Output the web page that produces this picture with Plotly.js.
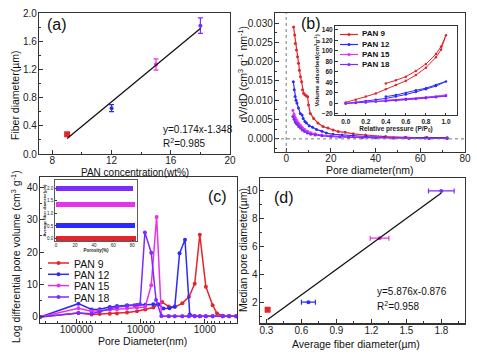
<!DOCTYPE html>
<html><head><meta charset="utf-8">
<script src="https://cdn.plot.ly/plotly-3.0.1.min.js"></script>
<style>html,body{margin:0;padding:0;background:#fff}#chart{width:477px;height:358px}</style>
</head><body><div id="chart"></div>
<script>
// ---------- data ----------
const seriesNames = ['PAN 9','PAN 12','PAN 15','PAN 18'];
const seriesColors = ['#e3262b','#2b2bff','#e832e8','#7a2cff'];

// (a) fiber diameter vs PAN concentration
const concA = [9, 12, 15, 18];
const fiberA = [0.28, 0.65, 1.27, 1.82];
const fiberErrA = [0, 0.05, 0.08, 0.11];
const fitAx = [9, 18];
const fitAy = [0.22, 1.78];

// (b) BJH pore size distribution
const b9x = [3.3,3.8,4.1,4.6,5.1,5.5,5.9,6.4,6.9,7.3,7.8,8.4,9.0,9.6,10.0,10.8,12.3,14.2,16.5,18.7,21,23.3,26.4,30,35.5,44.6,53.7,62.9,72];
const b9y = [0.0290,0.0269,0.0247,0.0230,0.0213,0.0196,0.0178,0.0161,0.0148,0.0127,0.0118,0.0114,0.0112,0.0109,0.0088,0.0066,0.0053,0.0041,0.0032,0.0028,0.0023,0.0019,0.0017,0.0013,0.0010,0.0006,0.0004,0.0004,0.0003];
const b12x = [3.2,3.6,4.0,4.4,4.8,5.5,6.3,7.1,7.6,8.4,9.1,10.3,11.8,13.6,16,18,21,25,30,36,44,53,62,72];
const b12y = [0.0148,0.0127,0.0110,0.0100,0.0093,0.0080,0.0066,0.0062,0.0053,0.0045,0.0041,0.0034,0.0030,0.0024,0.0020,0.0015,0.0012,0.0010,0.0008,0.0006,0.0004,0.0003,0.0002,0.0002];
const b15x = [3.0,3.5,4.0,4.5,5.0,5.6,6.4,7.2,8.2,9.5,11,13,16,20,24,28,34,40,48,55,64,72];
const b15y = [0.0074,0.0064,0.0056,0.0050,0.0045,0.0040,0.0035,0.0030,0.0025,0.0020,0.0016,0.0013,0.0010,0.0008,0.0006,0.0005,0.0004,0.0003,0.0002,0.0002,0.0001,0.0001];
const b18x = [3.0,3.5,4.0,4.5,5.0,5.6,6.4,7.2,8.2,9.5,11,13,16,20,24,28,34,40,48,55,64,72];
const b18y = [0.0058,0.0051,0.0044,0.0040,0.0037,0.0032,0.0028,0.0023,0.0019,0.0015,0.0012,0.0010,0.0008,0.0006,0.0005,0.0004,0.0003,0.0003,0.0002,0.0001,0.0001,0.0001];

// (b) inset: N2 isotherms (adsorption then desorption)
const iso9x = [0.0,0.1,0.2,0.3,0.4,0.5,0.6,0.7,0.8,0.9,0.95,1.0,0.95,0.9,0.8,0.7,0.6,0.5,0.4];
const iso9y = [2,7,13,19,27,35,43,54,68,88,102,130,108,94,75,62,51,44,38];
const iso12x = [0.0,0.1,0.2,0.3,0.4,0.5,0.6,0.7,0.8,0.9,1.0,0.9,0.8,0.7,0.6,0.5,0.4];
const iso12y = [0,2,4.5,7,9.5,13,17,22,27,33,42,35,29,25,20,16,13];
const iso15x = [0.0,0.1,0.2,0.3,0.4,0.5,0.6,0.7,0.8,0.9,1.0,0.8,0.6,0.4];
const iso15y = [0,1.2,2.5,3.8,5,6.5,8,9.5,11,13,16,12,9,6];
const iso18x = [0.0,0.1,0.2,0.3,0.4,0.5,0.6,0.7,0.8,0.9,1.0,0.8,0.6,0.4];
const iso18y = [0,1,2,3,4,5.5,7,8.5,10,12,14,11,8,5];

// (c) mercury intrusion: log differential pore volume
const c9x = [369000,93100,58000,43500,30200,23400,16300,11400,8490,6350,4630,3650,2940,2245,1770,1440,1200,965,757,647,526,419,325];
const c9y = [0,1.2,0.8,0.9,1.0,1.1,1.4,1.8,2.3,2.9,4.6,3.2,3.1,4.2,6.2,10.2,25.3,9.3,3.6,1.1,0.4,0.3,0.2];
const c12x = [369000,93100,58000,43500,30200,23400,16300,11400,8490,6350,5300,4400,3560,2940,2480,2040,1720,1440,1200,965,757,526,419,325];
const c12y = [0,4.1,2.3,2.4,3.1,3.4,3.6,3.7,3.8,3.9,3.9,2.6,2.7,3.2,19.6,23.8,0.8,0.3,0.2,0.2,0.2,0.2,0.2,0.2];
const c15x = [369000,93100,58000,43500,30200,23400,16300,11400,8490,6840,5640,4750,3650,2940,2245,1770,1440,1200,965,757,526,419,325];
const c15y = [0,2.7,1.8,1.9,2.2,2.4,2.6,2.9,3.1,9.8,30.8,0.3,0.2,0.2,0.2,0.2,0.2,0.2,0.2,0.2,0.2,0.2,0.2];
const c18x = [369000,93100,58000,43500,30200,23400,16300,12500,10200,8590,6840,5760,4750,3650,2940,2245,1770,1440,1200,965,757,526,419,325];
const c18y = [0,1.2,1.0,1.6,2.6,3.1,3.4,3.6,3.9,26.0,19.8,5.2,0.3,0.2,0.2,0.2,0.2,0.2,0.2,0.2,0.2,0.2,0.2,0.2];
const cTicks = [100000, 10000, 1000];
const cTickText = ['100000','10000','1000'];

// (c) inset: porosity bars
const porosity = [84, 83.4, 82.4, 80.7];
const barPos = [0.0, 0.5, 1.35, 2.0];

// (d) median pore diameter vs average fiber diameter
const fiberD = [0.31, 0.66, 1.27, 1.80];
const fiberErrD = [0, 0.06, 0.08, 0.11];
const medPoreD = [1.45, 2.0, 6.6, 10.0];
const fitDx = [0.31, 1.80];
const fitDy = [0.75, 9.85];

// ---------- layout helpers ----------
const W = 477, H = 358;
const F = 'Liberation Sans, Arial, sans-serif';
const INK = '#222';
const dx = (a,b) => [a/W, b/W];
const dy = (top,bot) => [1-bot/H, 1-top/H];

function ax(extra){
  return Object.assign({
    showline:true, linecolor:'#333', linewidth:1.2, mirror:true,
    ticks:'inside', ticklen:4, tickwidth:1, tickcolor:'#333',
    showgrid:false, zeroline:false, automargin:false,
    tickfont:{family:F,size:10,color:INK},
  }, extra);
}
function ttl(text, size, standoff, bold){
  return {text:text, standoff:standoff, font:{family:F,size:size,color:INK,weight:bold?'bold':'normal'}};
}
const minorT = (d)=>({ticks:'inside', ticklen:2, tickcolor:'#333', dtick:d, showgrid:false});

const traces = [];
// (a)
for(let i=0;i<4;i++){
  traces.push({type:'scatter', mode:'markers', x:[concA[i]], y:[fiberA[i]], xaxis:'x', yaxis:'y', name:seriesNames[i],
    marker:{color:seriesColors[i], size:i===0?6:4, symbol:i===0?'square':'circle'},
    error_y:{type:'data', array:[fiberErrA[i]], visible:fiberErrA[i]>0, color:seriesColors[i], thickness:1.2, width:2.5},
    showlegend:false});
}
traces.push({type:'scatter', mode:'lines', x:fitAx, y:fitAy, xaxis:'x', yaxis:'y', line:{color:'#111', width:1.3}, showlegend:false});

// (b)
const bX=[b9x,b12x,b15x,b18x], bY=[b9y,b12y,b15y,b18y];
for(let i=0;i<4;i++){
  traces.push({type:'scatter', mode:'lines+markers', x:bX[i], y:bY[i], xaxis:'x2', yaxis:'y2', name:seriesNames[i],
    line:{color:seriesColors[i], width:1.2}, marker:{color:seriesColors[i], size:3}, showlegend:false});
}
// (b) inset
const isoX=[iso9x,iso12x,iso15x,iso18x], isoY=[iso9y,iso12y,iso15y,iso18y];
for(let i=0;i<4;i++){
  traces.push({type:'scatter', mode:'lines+markers', x:isoX[i], y:isoY[i], xaxis:'x3', yaxis:'y3', name:seriesNames[i],
    line:{color:seriesColors[i], width:1}, marker:{color:seriesColors[i], size:2.5}, showlegend:false});
}
// (c)
const cX=[c9x,c12x,c15x,c18x], cY=[c9y,c12y,c15y,c18y];
for(let i=0;i<4;i++){
  traces.push({type:'scatter', mode:'lines+markers', x:cX[i], y:cY[i], xaxis:'x4', yaxis:'y4', name:seriesNames[i],
    line:{color:seriesColors[i], width:1.5}, marker:{color:seriesColors[i], size:4}, showlegend:false});
}
// (c) inset bars
traces.push({type:'bar', orientation:'h', x:porosity, y:barPos, xaxis:'x5', yaxis:'y5', width:0.2,
  marker:{color:seriesColors}, showlegend:false});
// (d)
for(let i=0;i<4;i++){
  traces.push({type:'scatter', mode:'markers', x:[fiberD[i]], y:[medPoreD[i]], xaxis:'x6', yaxis:'y6', name:seriesNames[i],
    marker:{color:seriesColors[i], size:i===0?6:4, symbol:i===0?'square':'circle'},
    error_x:{type:'data', array:[fiberErrD[i]], visible:fiberErrD[i]>0, color:seriesColors[i], thickness:1.2, width:2.5},
    showlegend:false});
}
traces.push({type:'scatter', mode:'lines', x:fitDx, y:fitDy, xaxis:'x6', yaxis:'y6', line:{color:'#111', width:1.3}, showlegend:false});

// ---------- custom legends (key only) ----------
const shapes = [], annotations = [];
function legend(x0, x1, xt, rows, fsize, bold, msize, lw, boxH){
  for(let i=0;i<4;i++){
    const yy = 1 - rows[i]/H;
    shapes.push({type:'line', xref:'paper', yref:'paper', x0:x0/W, x1:x1/W, y0:yy, y1:yy, line:{color:seriesColors[i], width:lw}});
    const cx=(x0+x1)/2, r=msize/2;
    shapes.push({type:'circle', xref:'paper', yref:'paper', x0:(cx-r)/W, x1:(cx+r)/W, y0:yy-r/H, y1:yy+r/H, fillcolor:seriesColors[i], line:{width:0}});
    annotations.push({xref:'paper', yref:'paper', x:xt/W, y:yy, xanchor:'left', yanchor:'middle', showarrow:false,
      height:boxH, valign:'middle',
      text:seriesNames[i], font:{family:F, size:fsize, color:'#111', weight:bold?'bold':'normal'}});
  }
}
legend(340, 358, 360, [34.5, 44.5, 54.5, 64.5], 8, true, 3, 1.2, 9.5);
legend(48, 69, 72, [263, 274.3, 285.6, 297], 10.5, false, 4, 1.5, 11);

function txt(x, y, text, size){
  annotations.push({xref:'paper', yref:'paper', x:x/W, y:1-y/H, xanchor:'left', yanchor:'middle', showarrow:false,
    text:text, font:{family:F, size:size, color:'#111'}});
}
function ctxt(x, y, text, size, angle){
  annotations.push({xref:'paper', yref:'paper', x:x/W, y:1-y/H, xanchor:'center', yanchor:'middle', showarrow:false,
    textangle:angle||0, text:text, font:{family:F, size:size, color:'#111'}});
}
txt(45, 25, '(a)', 16); txt(299, 23, '(b)', 16); txt(206, 196, '(c)', 16); txt(272, 197, '(d)', 16);
txt(161, 129, 'y=0.174x-1.348', 10); txt(161, 143, 'R<sup>2</sup>=0.985', 10);
txt(375, 291, 'y=5.876x-0.876', 10); txt(375, 306, 'R<sup>2</sup>=0.958', 10);

// axis titles
ctxt(135, 172.5, 'PAN concentration(wt%)', 10);
ctxt(15, 96, 'Fiber diameter(µm)', 10.5, -90);
ctxt(370, 170, 'Pore diameter(nm)', 10.5);
ctxt(241.5, 74, 'dV/dD (cm<sup>3</sup> g<sup>-1</sup> nm<sup>-1</sup>)', 10.5, -90);
ctxt(142, 341, 'Pore Diameter(nm)', 10.5);
ctxt(15, 257, 'Log differential pore volume (cm<sup>3</sup> g<sup>-1</sup>)', 10.5, -90);
ctxt(356, 344, 'Average fiber diameter(µm)', 10.5);
ctxt(243, 250, 'Median pore diameter(µm)', 10.5, -90);

// dotted reference lines in (b)
shapes.push({type:'line', xref:'x2', yref:'y2 domain', x0:0, x1:0, y0:0, y1:1, line:{color:'#777', width:1, dash:'dot'}});
shapes.push({type:'line', xref:'x2 domain', yref:'y2', x0:0, x1:1, y0:0, y1:0, line:{color:'#777', width:1, dash:'dot'}});

const XS = -3, YS = -1;
const layout = {
  width:W, height:H, margin:{l:0,r:0,t:0,b:0}, paper_bgcolor:'#fff', plot_bgcolor:'rgba(0,0,0,0)',
  font:{family:F, color:INK}, showlegend:false,
  // (a)
  xaxis: ax({domain:dx(39,230), anchor:'y', range:[7.1,20], tickvals:[8,12,16,20], minor:minorT(2), ticklabelstandoff:XS}),
  yaxis: ax({domain:dy(13,154), anchor:'x', range:[0,2.0], dtick:0.4, tickformat:'.1f', minor:minorT(0.2), ticklabelstandoff:YS}),
  // (b)
  xaxis2: ax({domain:dx(275,465), anchor:'y2', range:[-5,80], dtick:20, minor:minorT(10), ticklabelstandoff:XS}),
  yaxis2: ax({domain:dy(13,152), anchor:'x2', range:[-0.0034,0.0326], dtick:0.005, tickformat:'.3f', minor:minorT(0.0025), ticklabelstandoff:YS}),
  // (b) inset
  xaxis3: ax({domain:dx(335,457), anchor:'y3', range:[-0.107,1.11], dtick:0.2, tickformat:'.1f', ticklen:2.5, linewidth:1,
    tickfont:{family:F,size:6.5,color:INK,weight:'bold'}, title:ttl('Relative pressure (P/P<sub>0</sub>)',6.5,0,true)}),
  yaxis3: ax({domain:dy(25.7,115), anchor:'x3', range:[-22,148], dtick:20, ticklen:2.5, linewidth:1,
    tickfont:{family:F,size:6.5,color:INK,weight:'bold'}, title:ttl('Volume adsorbed(cm<sup>3</sup>g<sup>-1</sup>)',6,1,true)}),
  // (c)
  xaxis4: ax({domain:dx(40,237), anchor:'y4', type:'log', range:[5.567,2.5], tickvals:cTicks, ticktext:cTickText, ticklabelstandoff:XS,
    minor:{ticks:'inside', ticklen:2, tickcolor:'#333', dtick:'D1', showgrid:false}}),
  yaxis4: ax({domain:dy(177,323), anchor:'x4', range:[-1.85,43.1], dtick:10, minor:minorT(5), ticklabelstandoff:YS}),
  // (c) inset
  xaxis5: ax({domain:dx(55,137), anchor:'y5', range:[-1,85], dtick:20, ticklen:1.5, linewidth:0.8,
    tickfont:{family:F,size:4.5,color:INK}, title:ttl('Porosity(%)',4.5,0,true)}),
  yaxis5: ax({domain:dy(180,241), anchor:'x5', range:[-0.1,2.33], dtick:0.5, tickformat:'.1f', ticklen:1.5, linewidth:0.8,
    tickfont:{family:F,size:4.5,color:INK}, title:ttl('Average fiber diameter(µm)',4,0,true)}),
  // (d)
  xaxis6: ax({domain:dx(259.7,465), anchor:'y6', range:[0.242,2.003], dtick:0.3, tick0:0, tickformat:'.1f', minor:minorT(0.15), ticklabelstandoff:XS}),
  yaxis6: ax({domain:dy(178.3,323.3), anchor:'x6', range:[0.48,10.91], dtick:2, minor:minorT(1), ticklabelstandoff:YS}),
  shapes:shapes, annotations:annotations,
  bargap:0
};
Plotly.newPlot('chart', traces, layout, {staticPlot:true, displayModeBar:false});
</script>
</body></html>
